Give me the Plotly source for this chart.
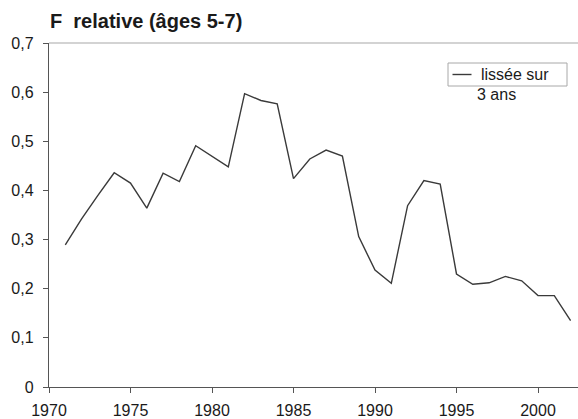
import plotly.graph_objects as go

years = list(range(1971, 2003))
f_relative = [0.289, 0.342, 0.390, 0.436, 0.415, 0.364, 0.435, 0.418, 0.491, 0.469,
              0.448, 0.597, 0.583, 0.576, 0.424, 0.464, 0.482, 0.470, 0.306, 0.238,
              0.211, 0.369, 0.420, 0.413, 0.230, 0.209, 0.212, 0.225, 0.216, 0.186,
              0.186, 0.135]
x_ticks = [1970, 1975, 1980, 1985, 1990, 1995, 2000]
y_ticks = [0, 0.1, 0.2, 0.3, 0.4, 0.5, 0.6, 0.7]
y_tick_labels = ["0", "0,1", "0,2", "0,3", "0,4", "0,5", "0,6", "0,7"]
title_text = "F\u00a0 relative (âges 5-7)"
legend_lines = ["lissée sur", "3 ans"]

W, H = 578, 419
ml, mr, mt, mb = 49, 0, 43, 32
font = "Liberation Sans, Arial, sans-serif"

fig = go.Figure()
fig.add_trace(go.Scatter(x=years, y=f_relative, mode="lines",
                         line=dict(color="#3a3a3a", width=1.4),
                         showlegend=False, hoverinfo="skip"))

pw = W - ml - mr
ph = H - mt - mb
def px_x(p):
    return (p - ml) / pw
def px_y(p):
    return 1 - (p - mt) / ph

shapes = [
    dict(type="line", xref="paper", yref="paper", x0=0, x1=1, y0=1, y1=1,
         line=dict(color="#a8a8a8", width=1.2)),
    dict(type="rect", xref="paper", yref="paper",
         x0=px_x(448), x1=px_x(567), y0=px_y(86), y1=px_y(63),
         line=dict(color="#a8a8a8", width=1), fillcolor="rgba(0,0,0,0)"),
    dict(type="line", xref="paper", yref="paper",
         x0=px_x(452.5), x1=px_x(471.5), y0=px_y(74.5), y1=px_y(74.5),
         line=dict(color="#3a3a3a", width=1.4)),
]
annotations = [
    dict(text=legend_lines[0], xref="paper", yref="paper", x=px_x(479), y=px_y(74.5),
         xanchor="left", yanchor="middle", showarrow=False,
         font=dict(family=font, size=16, color="#1a1a1a")),
    dict(text=legend_lines[1], xref="paper", yref="paper", x=px_x(475), y=px_y(94),
         xanchor="left", yanchor="middle", showarrow=False,
         font=dict(family=font, size=16, color="#1a1a1a")),
]

fig.update_layout(
    width=W, height=H,
    margin=dict(l=ml, r=mr, t=mt, b=mb, pad=0, autoexpand=False),
    paper_bgcolor="white", plot_bgcolor="white",
    title=dict(text="<b>" + title_text + "</b>", x=50 / W, xanchor="left", xref="container",
               y=1 - 21 / H, yanchor="middle", yref="container",
               font=dict(family=font, size=20, color="#1a1a1a"),
               automargin=False),
    shapes=shapes, annotations=annotations,
    font=dict(family=font, size=16, color="#1a1a1a"),
)
fig.update_xaxes(range=[1970, 1970 + pw / 16.3], tickmode="array", tickvals=x_ticks,
                 ticks="outside", ticklen=5, tickcolor="#555", tickwidth=1.2,
                 showline=True, linecolor="#555", linewidth=1.4, automargin=False,
                 showgrid=False, zeroline=False, ticklabelstandoff=4,
                 tickfont=dict(family=font, size=16, color="#1a1a1a"))
fig.update_yaxes(range=[0, 0.7], tickmode="array", tickvals=y_ticks, ticktext=y_tick_labels,
                 ticks="outside", ticklen=5, tickcolor="#555", tickwidth=1.2,
                 showline=True, linecolor="#555", linewidth=1.4, automargin=False,
                 showgrid=False, zeroline=False, ticklabelstandoff=6,
                 tickfont=dict(family=font, size=16, color="#1a1a1a"))

fig.write_html("out.html", config={"displayModeBar": False},
               post_script="document.body.style.margin='0px';document.body.style.overflow='hidden';")
